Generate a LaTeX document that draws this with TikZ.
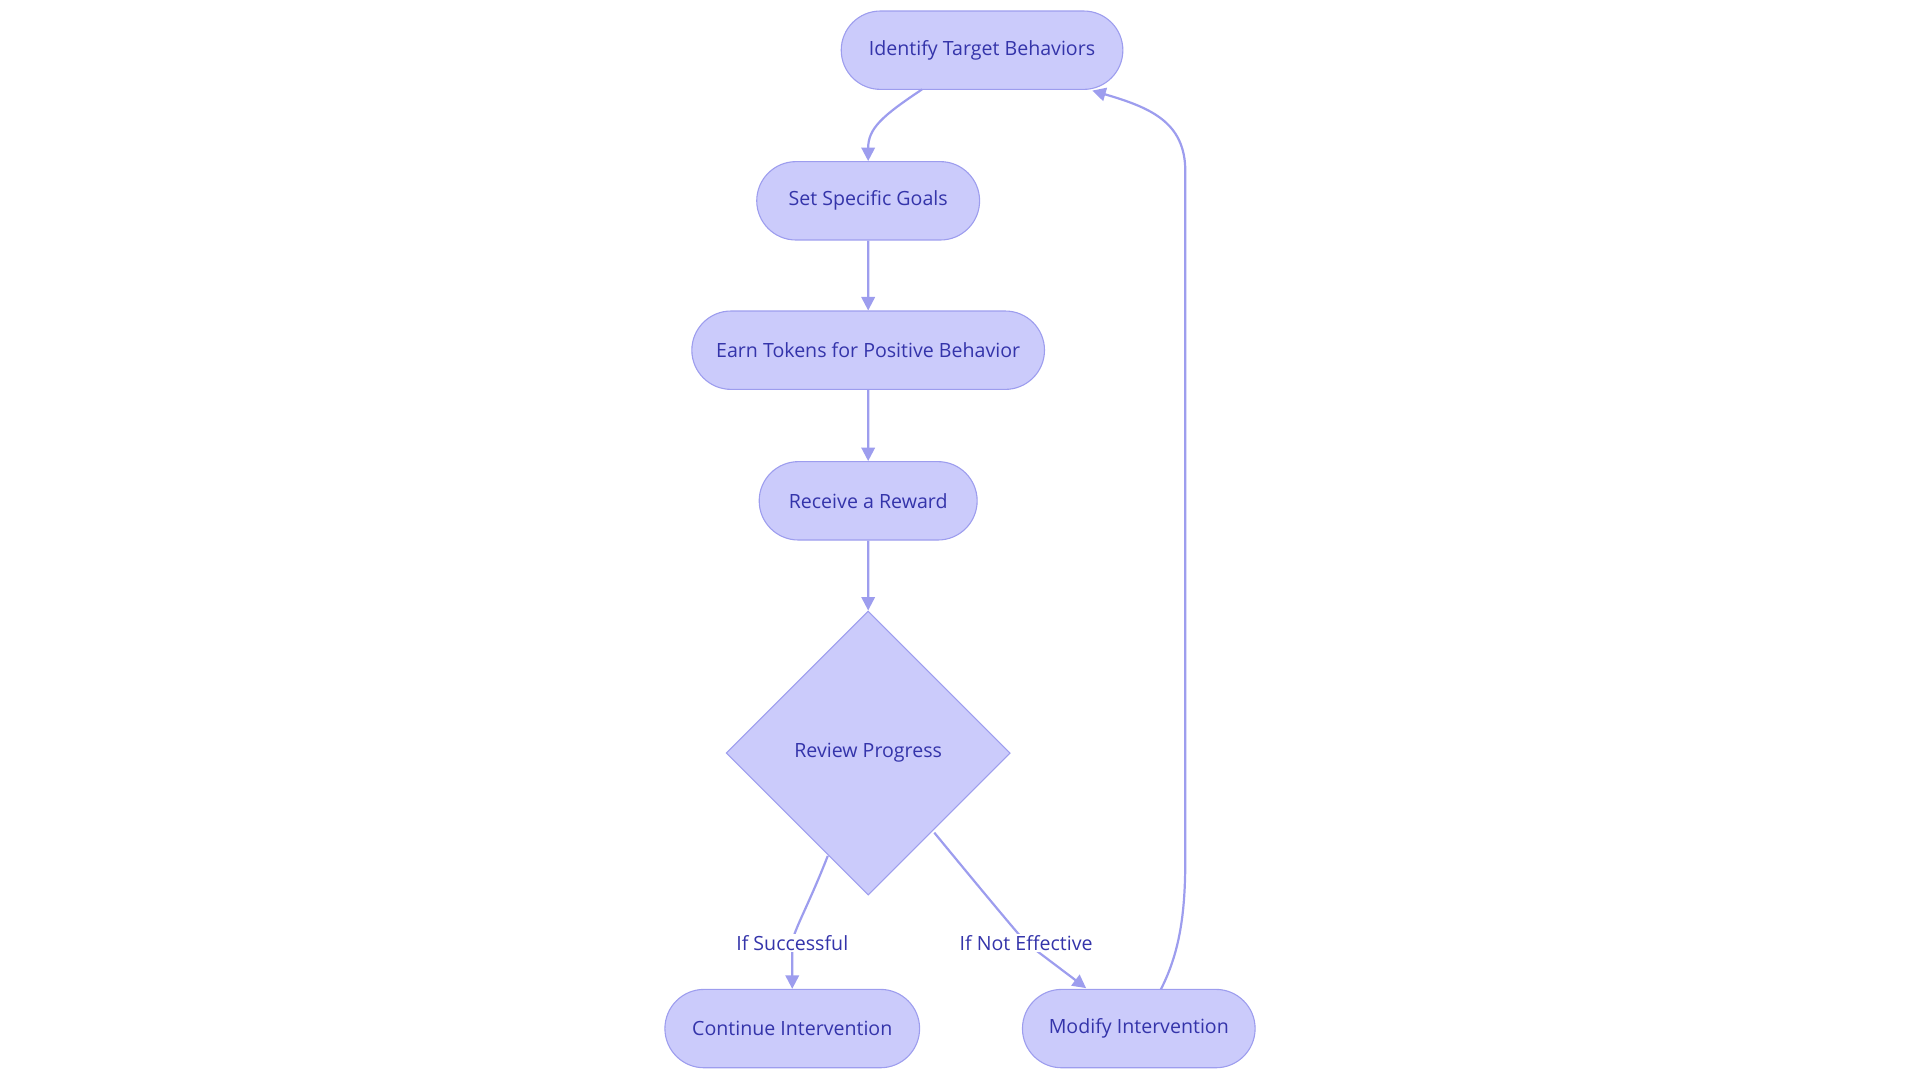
\documentclass[tikz,border=0pt]{standalone}
\usepackage{fontspec}
\setmainfont{Open Sans}
\usetikzlibrary{shapes.geometric,shapes.misc,arrows.meta}
\definecolor{nf}{HTML}{CBCBFB}
\definecolor{ns}{HTML}{9D9DEE}
\definecolor{tx}{HTML}{3434AA}
\begin{document}
\begin{tikzpicture}[x=1pt,y=-1pt,
  box/.style={rounded rectangle,draw=ns,fill=nf,line width=0.9pt,minimum height=64pt,text=tx,font=\fontsize{16}{18}\selectfont,inner sep=0pt},
  dia/.style={diamond,draw=ns,fill=nf,line width=0.9pt,minimum width=232pt,minimum height=232pt,aspect=1,text=tx,font=\fontsize{16}{18}\selectfont,inner sep=0pt},
  lab/.style={fill=white,text=tx,font=\fontsize{16}{18}\selectfont,inner sep=1pt},
  ar/.style={draw=ns,line width=1.8pt,-{Triangle[length=11pt,width=11pt]}}]
\useasboundingbox (0,0) rectangle (1568,882);
\node[box,minimum width=230pt] (a) at (802,41) {Identify Target Behaviors};
\node[box,minimum width=182pt] (b) at (709,164) {Set Specific Goals};
\node[box,minimum width=288pt] (c) at (709,286) {Earn Tokens for Positive Behavior};
\node[box,minimum width=178pt] (d) at (709,409) {Receive a Reward};
\node[dia] (e) at (709,615) {Review Progress};
\node[box,minimum width=208pt] (f) at (647,840) {Continue Intervention};
\node[box,minimum width=190pt] (g) at (930,840) {Modify Intervention};
\coordinate (l1) at (647,770);
\coordinate (l2) at (838,770);
\coordinate (r1) at (968,140);
\coordinate (r2) at (968,700);
\draw[ar] (753,73) .. controls (720,95) and (709,105) .. (b.north);
\draw[ar] (b) -- (c);
\draw[ar] (c) -- (d);
\draw[ar] (d) -- (e.north);
\draw[ar] (676,699) .. controls (660,740) and (648,760) .. (l1) .. controls (647,785) .. (f.north);
\draw[ar] (763,680) .. controls (800,725) and (825,755) .. (l2) -- (887,807);
\draw[ar] (948,808) .. controls (965,775) and (968,740) .. (r2) -- (r1) .. controls (968,100) and (940,88) .. (892,74);
\node[lab] at (l1) {If Successful};
\node[lab] at (l2) {If Not Effective};
\end{tikzpicture}
\end{document}
